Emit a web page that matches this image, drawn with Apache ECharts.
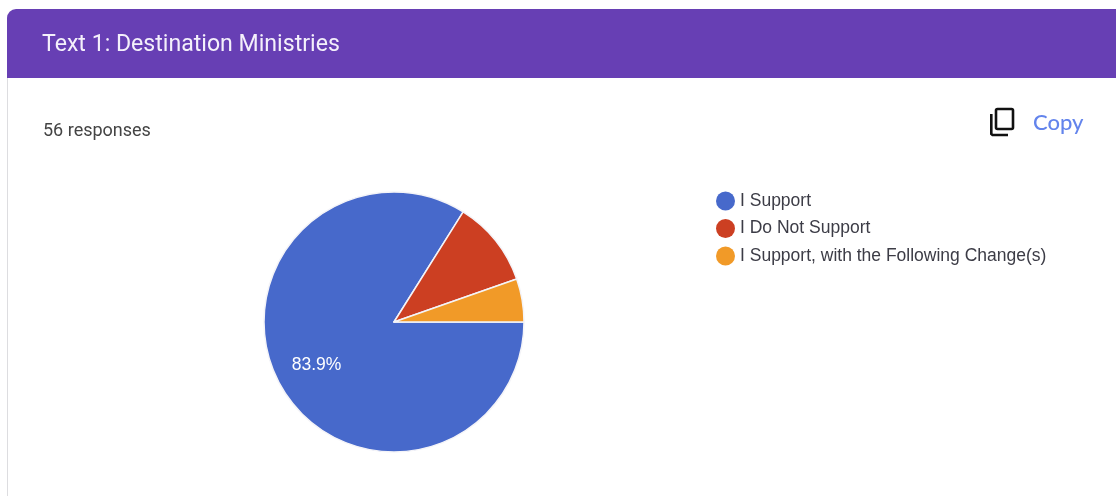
<!DOCTYPE html>
<html>
<head>
<meta charset="utf-8">
<style>html,body{margin:0;padding:0;background:#fff}#chart{width:1116px;height:496px}</style>
<script src="https://cdn.jsdelivr.net/npm/echarts@6/dist/echarts.min.js"></script>
</head>
<body>
<div id="chart"></div>
<script>
// Survey answers for the "Destination Ministries" question
const answers = ['I Support', 'I Do Not Support', 'I Support, with the Following Change(s)'];
const counts = [47, 6, 3];
const sliceColors = ['#4769cb', '#cc3f22', '#f19a28'];
const heading = 'Text 1: Destination Ministries';
const responseNote = '56 responses';
const copyLabel = 'Copy';

const chart = echarts.init(document.getElementById('chart'), null, { renderer: 'canvas' });

chart.setOption({
  animation: false,
  backgroundColor: '#ffffff',
  color: sliceColors,
  legend: {
    orient: 'vertical',
    left: 716,
    top: 191.5,
    padding: 0,
    icon: 'circle',
    itemWidth: 19,
    itemHeight: 19,
    itemGap: 8.5,
    selectedMode: false,
    data: answers,
    itemStyle: { borderWidth: 0 },
    textStyle: { fontFamily: 'Liberation Sans', fontSize: 17.5, lineHeight: 19, color: '#3c3c46' }
  },
  graphic: [
    // Card edge and header band
    { type: 'rect', shape: { x: 7, y: 78, width: 1, height: 418 }, style: { fill: '#dddde0' } },
    { type: 'rect', shape: { x: 7, y: 9, width: 1109, height: 69, r: [9, 0, 0, 0] }, style: { fill: '#673fb4' } },
    { type: 'text', x: 42, y: 45, style: { text: heading, fill: '#f4f0fb', font: '400 23.1px Roboto', textVerticalAlign: 'middle' } },
    { type: 'text', x: 43, y: 131, style: { text: responseNote, fill: '#444444', font: '18px Roboto', textVerticalAlign: 'middle' } },
    // Copy control
    { type: 'rect', shape: { x: 996, y: 109, width: 17, height: 20, r: 1.5 }, style: { fill: 'none', stroke: '#111111', lineWidth: 2.6 } },
    { type: 'polyline', shape: { points: [[991.3, 114], [991.3, 134], [992.5, 135], [1008, 135]] }, style: { fill: 'none', stroke: '#111111', lineWidth: 2.6 } },
    { type: 'text', x: 1033, y: 123, style: { text: copyLabel, fill: '#6384ec', font: '500 22px Lato', textVerticalAlign: 'middle' } }
  ],
  series: [{
    type: 'pie',
    center: [394, 322],
    radius: [0, 130],
    startAngle: 0,
    clockwise: true,
    silent: true,
    itemStyle: { borderColor: '#f4f4f8', borderWidth: 1.5 },
    labelLine: { show: false },
    label: { show: false },
    data: answers.map((name, i) => ({
      name,
      value: counts[i],
      label: i === 0 ? {
        show: true,
        position: 'inside',
        formatter: (p) => p.percent.toFixed(1) + '%',
        color: '#ffffff',
        fontFamily: 'Liberation Sans',
        fontSize: 17.5
      } : { show: false }
    })),
    labelLayout: { dx: -18, dy: 10 }
  }]
});
</script>
</body>
</html>
